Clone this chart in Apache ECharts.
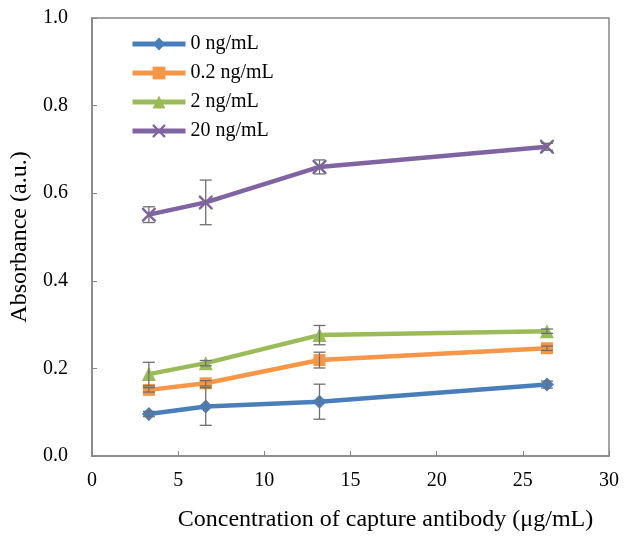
<!DOCTYPE html>
<html>
<head>
<meta charset="utf-8">
<script src="https://cdn.jsdelivr.net/npm/echarts@6/dist/echarts.min.js"></script>
<style>
  html, body { margin: 0; padding: 0; background: #fff; }
  #main { width: 624px; height: 539px; }
</style>
</head>
<body>
<div id="main"></div>
<script>
// capture antibody concentration (µg/mL)
const conc = [3.3, 6.6, 13.2, 26.4];

const names = ['0 ng/mL', '0.2 ng/mL', '2 ng/mL', '20 ng/mL'];

const abs0 = [0.096, 0.113, 0.124, 0.163];
const err0 = [0.006, 0.043, 0.040, 0.008];

const abs02 = [0.151, 0.166, 0.219, 0.246];
const err02 = [0.005, 0.006, 0.018, 0.005];

const abs2 = [0.187, 0.212, 0.276, 0.285];
const err2 = [0.027, 0.006, 0.022, 0.005];

const abs20 = [0.551, 0.579, 0.660, 0.706];
const err20 = [0.018, 0.051, 0.016, 0.008];

const xTicks = [0, 5, 10, 15, 20, 25, 30];
const yTicks = [0, 0.2, 0.4, 0.6, 0.8, 1.0];

const colors = ['#4a7ebb', '#f79646', '#9bbb59', '#8064a2'];
const symbols = [
  'diamond',
  'rect',
  'triangle',
  'path://M0,0 L2.5,0 L10,7.5 L17.5,0 L20,0 L20,2.5 L12.5,10 L20,17.5 L20,20 L17.5,20 L10,12.5 L2.5,20 L0,20 L0,17.5 L7.5,10 L0,2.5 Z'
];
const symbolSizes = [14, 12, 14, 14];

const allAbs = [abs0, abs02, abs2, abs20];
const allErr = [err0, err02, err2, err20];

const font = '"Liberation Serif", "Times New Roman", serif';

const chart = echarts.init(document.getElementById('main'));

const series = [];
allAbs.forEach((vals, i) => {
  series.push({
    name: names[i],
    type: 'line',
    data: conc.map((x, j) => [x, vals[j]]),
    symbol: symbols[i],
    symbolSize: symbolSizes[i],
    lineStyle: { width: 4.5, color: colors[i] },
    itemStyle: { color: colors[i] },
    z: 3
  });
});

allAbs.forEach((vals, i) => {
  series.push({
    type: 'custom',
    silent: true,
    z: 4,
    data: conc.map((x, j) => [x, vals[j], allErr[i][j]]),
    renderItem: function (params, api) {
      const x = api.value(0), y = api.value(1), e = api.value(2);
      const hi = api.coord([x, y + e]);
      const lo = api.coord([x, y - e]);
      const w = 6;
      const st = { stroke: '#6f6f6f', lineWidth: 1.3 };
      return {
        type: 'group',
        children: [
          { type: 'line', shape: { x1: hi[0], y1: hi[1], x2: lo[0], y2: lo[1] }, style: st },
          { type: 'line', shape: { x1: hi[0] - w, y1: hi[1], x2: hi[0] + w, y2: hi[1] }, style: st },
          { type: 'line', shape: { x1: lo[0] - w, y1: lo[1], x2: lo[0] + w, y2: lo[1] }, style: st }
        ]
      };
    }
  });
});

chart.setOption({
  animation: false,
  backgroundColor: '#fff',
  grid: {
    left: 92, right: 15, top: 18, bottom: 83,
    outerBoundsMode: 'none',
    show: true, borderColor: '#868686', borderWidth: 1.5
  },
  legend: {
    data: names,
    orient: 'vertical',
    left: 125,
    top: 27,
    itemWidth: 53,
    itemHeight: 16,
    itemGap: 5,
    lineStyle: { width: 5 },
    textStyle: { fontFamily: font, fontSize: 20, color: '#000', lineHeight: 24 }
  },
  xAxis: {
    type: 'value',
    min: 0, max: 30, interval: 5,
    name: 'Concentration of capture antibody (μg/mL)',
    nameLocation: 'middle',
    nameGap: 52,
    nameTextStyle: { fontFamily: font, fontSize: 24, color: '#000', padding: [0, 0, 0, 70] },
    axisLine: { lineStyle: { color: '#868686', width: 1.5 } },
    axisTick: { inside: true, length: 5, lineStyle: { color: '#868686' } },
    axisLabel: {
      margin: 15,
      fontFamily: font, fontSize: 20, color: '#000',
      formatter: v => xTicks.includes(v) ? String(v) : ''
    },
    splitLine: { show: false }
  },
  yAxis: {
    type: 'value',
    min: 0, max: 1, interval: 0.2,
    name: 'Absorbance (a.u.)',
    nameLocation: 'middle',
    nameGap: 58,
    nameTextStyle: { fontFamily: font, fontSize: 24, color: '#000' },
    axisLine: { show: true, lineStyle: { color: '#868686', width: 1.5 } },
    axisTick: { show: true, inside: true, length: 5, lineStyle: { color: '#868686' } },
    axisLabel: {
      margin: 24,
      fontFamily: font, fontSize: 20, color: '#000',
      formatter: v => yTicks.some(t => Math.abs(t - v) < 1e-9) ? v.toFixed(1) : ''
    },
    splitLine: { show: false }
  },
  series: series
});
</script>
</body>
</html>
